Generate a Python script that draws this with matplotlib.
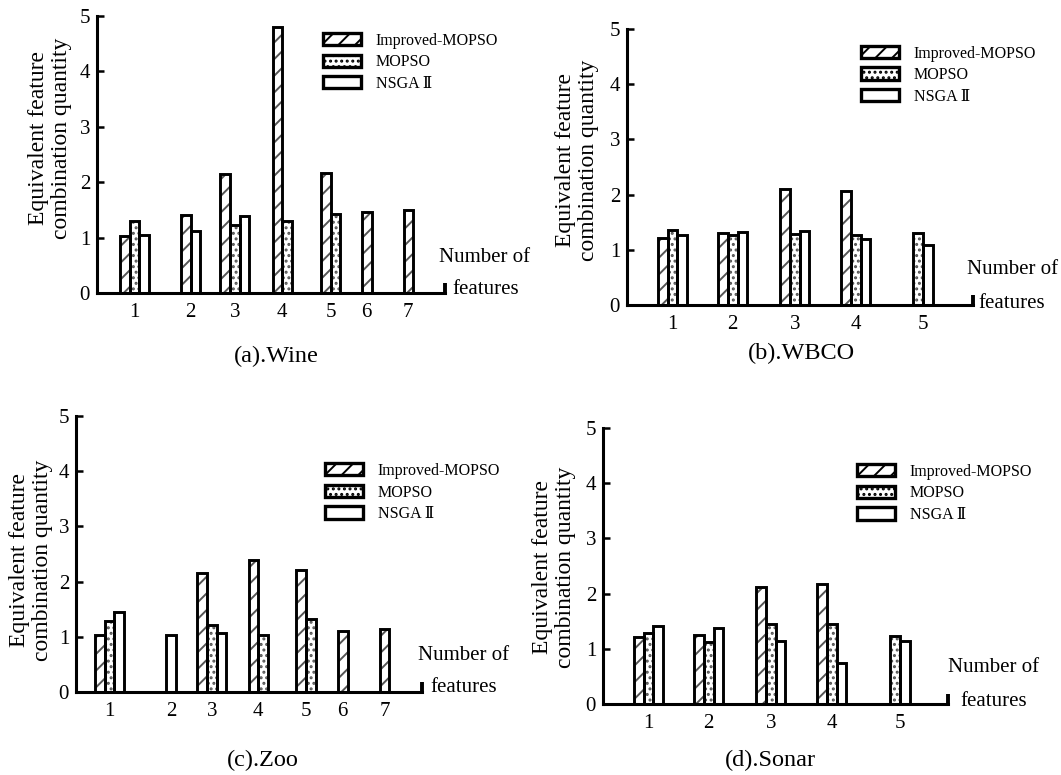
import numpy as np
import matplotlib
matplotlib.use("Agg")
import matplotlib.pyplot as plt
from matplotlib.patches import Patch

plt.rcParams["font.family"] = ["Liberation Serif", "DejaVu Serif", "Noto Sans CJK SC"]
plt.rcParams["hatch.linewidth"] = 1.4

# ------------------ DATA ------------------
SERIES = ["Improved-MOPSO", "MOPSO", "NSGA Ⅱ"]

wine_labels = ["1", "2", "3", "4", "5", "6", "7"]
wine_improved = [1.02, 1.40, 2.15, 4.80, 2.16, 1.47, 1.50]
wine_mopso = [1.30, None, 1.23, 1.30, 1.43, None, None]
wine_nsga = [1.04, 1.12, 1.39, None, None, None, None]

wbco_labels = ["1", "2", "3", "4", "5"]
wbco_improved = [1.22, 1.30, 2.10, 2.06, None]
wbco_mopso = [1.36, 1.26, 1.28, 1.27, 1.30]
wbco_nsga = [1.26, 1.32, 1.34, 1.19, 1.09]

zoo_labels = ["1", "2", "3", "4", "5", "6", "7"]
zoo_improved = [1.04, None, 2.16, 2.40, 2.21, 1.11, 1.15]
zoo_mopso = [1.28, None, 1.22, 1.04, 1.32, None, None]
zoo_nsga = [1.45, 1.04, 1.06, None, None, None, None]

sonar_labels = ["1", "2", "3", "4", "5"]
sonar_improved = [1.22, 1.25, 2.12, 2.17, None]
sonar_mopso = [1.28, 1.13, 1.45, 1.45, 1.23]
sonar_nsga = [1.42, 1.38, 1.15, 0.74, 1.15]

# ------------------ LAYOUT ------------------
W, H = 1061, 775
# axes boxes in pixels: x of y-axis, x of axis end, y of value 5, y of value 0
BOXES = {
    "a": (97, 445, 16, 293),
    "b": (627, 973, 29, 305),
    "c": (76, 422, 416, 692),
    "d": (603, 948, 428, 704),
}
# group centres in bar-width units along each x-axis
GROUP_X = {
    "a": [3.87, 9.64, 14.2, 19.1, 24.1, 27.8, 32.1],
    "b": [4.69, 10.9, 17.3, 23.6, 30.5],
    "c": [3.45, 9.8, 14.0, 18.8, 23.7, 27.5, 31.8],
    "d": [4.69, 10.9, 17.3, 23.6, 30.6],
}
LEGEND_POS = {"a": (0.649, 0.94), "b": (0.676, 0.94), "c": (0.72, 0.83), "d": (0.736, 0.87)}
YLABEL_POS = {"a": (-0.135, 0.56), "b": (-0.145, 0.525), "c": (-0.13, 0.478), "d": (-0.142, 0.496)}
CAPTIONS = {"a": ("(a).Wine", 276, 356), "b": ("(b).WBCO", 801, 353),
            "c": ("(c).Zoo", 263, 760), "d": ("(d).Sonar", 770, 760)}
NUM_OFF = {"a": ((-6, 36), (7, 3)), "b": ((-6, 35), (5, 2)),
           "c": ((-4, 37), (8, 5)), "d": ((0, 36), (12, 2))}

HATCHES = ["//", "...", None]

fig = plt.figure(figsize=(W / 100, H / 100), dpi=100)


def draw_panel(key, labels, improved, mopso, nsga):
    x0, x1, y5, y0 = BOXES[key]
    ax = fig.add_axes([x0 / W, 1 - y0 / H, (x1 - x0) / W, (y0 - y5) / H])
    width_units = (x1 - x0) / 9.7
    ax.set_xlim(0, width_units)
    ax.set_ylim(0, 5)

    centres = GROUP_X[key]
    for gi, c in enumerate(centres):
        vals = [(si, s[gi]) for si, s in enumerate([improved, mopso, nsga]) if s[gi] is not None]
        n = len(vals)
        for k, (si, v) in enumerate(vals):
            xpos = c + (k - (n - 1) / 2)
            h = HATCHES[si]
            if h:
                ax.bar(xpos, v, width=1, color="white", edgecolor="#555555",
                       hatch=h, linewidth=0, zorder=2)
            ax.bar(xpos, v, width=1, fill=False, edgecolor="black",
                   linewidth=2.1, zorder=3)

    for side in ["top", "right"]:
        ax.spines[side].set_visible(False)
    for side in ["left", "bottom"]:
        ax.spines[side].set_linewidth(2.2)

    ax.set_yticks(range(6))
    ax.set_xticks(centres)
    ax.set_xticklabels(labels)
    ax.tick_params(axis="y", direction="in", length=5, width=1.8, labelsize=15, pad=5)
    ax.tick_params(axis="x", length=0, labelsize=15, pad=7)
    ax.set_xticks([width_units], minor=True)
    ax.tick_params(axis="x", which="minor", direction="in", length=7, width=2.8)

    ax.text(*YLABEL_POS[key], "Equivalent feature\ncombination quantity",
            transform=ax.transAxes, rotation=90, ha="center", va="center",
            fontsize=17, linespacing=1.1)

    off1, off2 = NUM_OFF[key]
    ax.annotate("Number of", xy=(1, 0), xycoords="axes fraction", xytext=off1,
                textcoords="offset pixels", ha="left", va="center", fontsize=15,
                annotation_clip=False)
    ax.annotate("features", xy=(1, 0), xycoords="axes fraction", xytext=off2,
                textcoords="offset pixels", ha="left", va="center", fontsize=15,
                annotation_clip=False)

    handles = [Patch(facecolor="white", edgecolor="black", hatch=h, linewidth=2.4)
               for h in HATCHES]
    ax.legend(handles, SERIES, loc="upper left", bbox_to_anchor=LEGEND_POS[key],
              frameon=False, fontsize=11.5, handlelength=2.4, handleheight=0.8,
              labelspacing=0.35, handletextpad=0.9, borderpad=0, borderaxespad=0)

    txt, cx, cy = CAPTIONS[key]
    fig.text(cx / W, 1 - cy / H, txt, ha="center", va="center", fontsize=17.5)


draw_panel("a", wine_labels, wine_improved, wine_mopso, wine_nsga)
draw_panel("b", wbco_labels, wbco_improved, wbco_mopso, wbco_nsga)
draw_panel("c", zoo_labels, zoo_improved, zoo_mopso, zoo_nsga)
draw_panel("d", sonar_labels, sonar_improved, sonar_mopso, sonar_nsga)

fig.savefig("out.png", dpi=100)
